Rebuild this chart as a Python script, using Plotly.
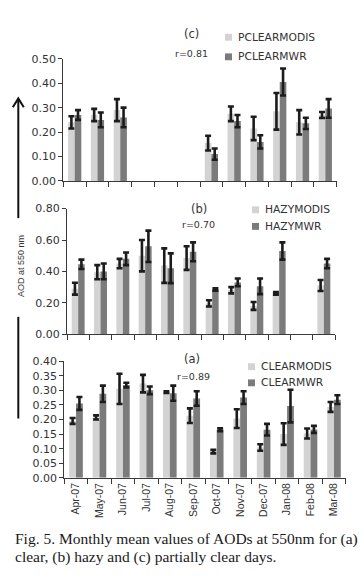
import plotly.graph_objects as go

W, H = 364, 578

months = ["Apr-07", "May-07", "Jun-07", "Jul-07", "Aug-07", "Sep-07",
          "Oct-07", "Nov-07", "Dec-07", "Jan-08", "Feb-08", "Mar-08"]

# (c) partially clear days
pclear_modis = [0.24, 0.27, 0.29, None, None, None, 0.155, 0.275, 0.215, 0.285, 0.24, 0.27]
pclear_modis_err = [0.025, 0.025, 0.045, None, None, None, 0.03, 0.03, 0.048, 0.075, 0.05, 0.012]
pclear_mwr = [0.27, 0.25, 0.26, None, None, None, 0.11, 0.245, 0.16, 0.405, 0.236, 0.297]
pclear_mwr_err = [0.02, 0.03, 0.04, None, None, None, 0.023, 0.025, 0.027, 0.055, 0.023, 0.038]

# (b) hazy days
hazy_modis = [0.29, 0.395, 0.45, 0.50, 0.437, 0.485, 0.196, 0.28, 0.18, 0.26, None, 0.31]
hazy_modis_err = [0.038, 0.045, 0.03, 0.10, 0.11, 0.075, 0.02, 0.02, 0.025, 0.008, None, 0.035]
hazy_mwr = [0.445, 0.40, 0.48, 0.56, 0.42, 0.525, 0.285, 0.33, 0.305, 0.53, None, 0.45]
hazy_mwr_err = [0.03, 0.05, 0.04, 0.10, 0.095, 0.06, 0.008, 0.025, 0.05, 0.055, None, 0.03]

# (a) clear days
clear_modis = [0.195, 0.207, 0.305, 0.323, 0.294, 0.213, 0.09, 0.203, 0.104, 0.15, 0.152, 0.243]
clear_modis_err = [0.01, 0.007, 0.052, 0.03, 0.003, 0.025, 0.006, 0.032, 0.011, 0.037, 0.017, 0.017]
clear_mwr = [0.255, 0.288, 0.318, 0.30, 0.29, 0.272, 0.165, 0.275, 0.165, 0.246, 0.166, 0.268]
clear_mwr_err = [0.022, 0.028, 0.008, 0.013, 0.026, 0.025, 0.005, 0.022, 0.02, 0.056, 0.012, 0.015]

C_MODIS = "#d3d3d3"
C_MWR = "#7b7b7b"
C_ERR = "#1c1c1c"
C_AX = "#3a3a3a"
TICKFONT = dict(family="DejaVu Sans", size=11, color="#333333")


def px(x):
    return x / W


def py(y):
    return 1 - y / H


fig = go.Figure()


def add_pair(modis, modis_err, mwr, mwr_err, name_m, name_w, xa, ya):
    for vals, errs, col, nm in ((modis, modis_err, C_MODIS, name_m),
                                (mwr, mwr_err, C_MWR, name_w)):
        fig.add_trace(go.Bar(
            x=months, y=vals, name=nm, marker=dict(color=col, line=dict(width=0)),
            error_y=dict(type="data", array=errs, visible=True, color=C_ERR,
                         thickness=2.6, width=3),
            xaxis=xa, yaxis=ya, showlegend=False))


add_pair(pclear_modis, pclear_modis_err, pclear_mwr, pclear_mwr_err,
         "PCLEARMODIS", "PCLEARMWR", "x", "y")
add_pair(hazy_modis, hazy_modis_err, hazy_mwr, hazy_mwr_err,
         "HAZYMODIS", "HAZYMWR", "x2", "y2")
add_pair(clear_modis, clear_modis_err, clear_mwr, clear_mwr_err,
         "CLEARMODIS", "CLEARMWR", "x3", "y3")


def xaxis_cfg(x0, x1, anchor, labels):
    return dict(domain=[px(x0), px(x1)], anchor=anchor, type="category",
                categoryorder="array", categoryarray=months,
                showline=True, linecolor=C_AX, linewidth=1,
                ticks="outside", ticklen=5, tickcolor=C_AX, tickwidth=1,
                tickson="boundaries", showgrid=False, zeroline=False,
                showticklabels=labels, tickangle=-90,
                tickfont=dict(family="Liberation Sans", size=10.5, color="#333333"))


def yaxis_cfg(ybot, ytop, anchor, rng, dtick):
    return dict(domain=[py(ybot), py(ytop)], anchor=anchor, range=rng,
                dtick=dtick, tick0=0, tickformat=".2f",
                showline=True, linecolor=C_AX, linewidth=1,
                ticks="outside", ticklen=4, tickcolor=C_AX, tickwidth=1,
                showgrid=False, zeroline=False, tickfont=TICKFONT)


fig.update_layout(
    width=W, height=H, margin=dict(l=0, r=0, t=0, b=0),
    paper_bgcolor="white", plot_bgcolor="white",
    barmode="group", bargap=0.42, bargroupgap=0.0,
    showlegend=False,
    xaxis=xaxis_cfg(63.3, 336.7, "y", False),
    yaxis=yaxis_cfg(179, 54, "x", [0, 0.5], 0.1),
    xaxis2=xaxis_cfg(67, 335, "y2", False),
    yaxis2=yaxis_cfg(335.7, 207.3, "x2", [0, 0.8], 0.2),
    xaxis3=xaxis_cfg(64.3, 345.7, "y3", True),
    yaxis3=yaxis_cfg(482.7, 363.3, "x3", [0, 0.4], 0.05),
)

annotations = []
shapes = []


def text(x, y, s, size, family="DejaVu Sans", xanchor="center", color="#333333", angle=0):
    annotations.append(dict(x=px(x), y=py(y), xref="paper", yref="paper", text=s,
                            showarrow=False, xanchor=xanchor, yanchor="middle",
                            textangle=angle,
                            font=dict(family=family, size=size, color=color)))


def legend_item(x, y, label, color):
    shapes.append(dict(type="rect", xref="paper", yref="paper",
                       x0=px(x), x1=px(x + 7), y0=py(y - 3.5), y1=py(y + 3.5),
                       fillcolor=color, line=dict(width=0)))
    text(x + 11, y, label, 10.7, xanchor="left")


# panel titles
text(191, 29, "(c)", 11.5)
text(191, 49, "r=0.81", 9.5)
text(199, 208, "(b)", 11.5)
text(199, 223.5, "r=0.70", 9.5)
text(192, 361, "(a)", 11.5)
text(193, 379, "r=0.89", 9.5)

# legends
legend_item(225, 32, "PCLEARMODIS", C_MODIS)
legend_item(225, 52, "PCLEARMWR", C_MWR)
legend_item(252, 208.5, "HAZYMODIS", C_MODIS)
legend_item(252, 225.5, "HAZYMWR", C_MWR)
legend_item(248, 369, "CLEARMODIS", C_MODIS)
legend_item(248, 385.5, "CLEARMWR", C_MWR)

# y-axis title with arrow
text(21, 266, "AOD at 550 nm", 9, family="Liberation Sans", angle=-90)
AX = 18.3
shapes.append(dict(type="line", xref="paper", yref="paper",
                   x0=px(AX), x1=px(AX), y0=py(422), y1=py(318),
                   line=dict(color="#111111", width=2)))
shapes.append(dict(type="line", xref="paper", yref="paper",
                   x0=px(AX), x1=px(AX), y0=py(217), y1=py(95),
                   line=dict(color="#111111", width=2)))
shapes.append(dict(type="path", xref="paper", yref="paper",
                   path="M {} {} L {} {} L {} {}".format(px(AX - 5.5), py(103.5), px(AX), py(94.5),
                                                         px(AX + 5.5), py(103.5)),
                   line=dict(color="#111111", width=2)))

# caption
text(13, 545.5, "Fig. 5. Monthly mean values of AODs at 550nm for (a)", 15.5,
     family="Liberation Serif", xanchor="left", color="#1a1a1a")
text(13, 563.5, "clear, (b) hazy and (c) partially clear days.", 15.5,
     family="Liberation Serif", xanchor="left", color="#1a1a1a")

fig.update_layout(annotations=annotations, shapes=shapes)

fig.write_html("out.html", config={"displayModeBar": False},
               post_script="document.body.style.margin='0';document.body.style.overflow='hidden';")
